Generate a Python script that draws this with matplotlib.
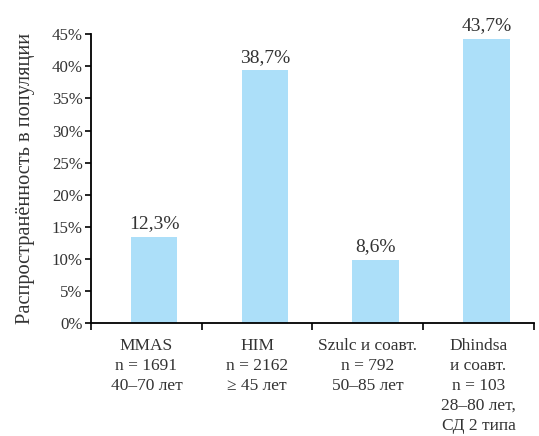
import matplotlib.pyplot as plt
import numpy as np

plt.rcParams['font.family'] = ['Liberation Serif', 'DejaVu Serif']

groups = ['MMAS\nn = 1691\n40–70 лет',
          'HIM\nn = 2162\n≥ 45 лет',
          'Szulc и соавт.\nn = 792\n50–85 лет',
          'Dhindsa\nи соавт.\nn = 103\n28–80 лет,\nСД 2 типа']
# bar heights as drawn in the picture, and the printed labels
heights = [13.4, 39.4, 9.8, 44.3]
labels = ['12,3%', '38,7%', '8,6%', '43,7%']
yticks = [0, 5, 10, 15, 20, 25, 30, 35, 40, 45]

txt = '#333333'
fig = plt.figure(figsize=(5.39, 4.36), dpi=100)
ax = fig.add_axes([0.169, 0.26, 0.8215, 0.661])

x = np.arange(len(groups)) + 0.57
ax.bar(x, heights, width=0.42, color='#acdff9')
for xi, h, lab in zip(x, heights, labels):
    ax.text(xi, h + 0.7, lab, ha='center', va='bottom', fontsize=14,
            color=txt, clip_on=False)

ax.set_xlim(0, 4)
ax.set_ylim(0, 45)
ax.set_yticks(yticks)
ax.set_yticklabels([f'{v}%' for v in yticks], fontsize=12.2, color=txt)
ax.set_xticks(range(5))
ax.set_xticklabels([])
ax.set_xticks(np.arange(4) + 0.5, minor=True)
ax.set_xticklabels(groups, minor=True, fontsize=12.5, color=txt,
                   linespacing=1.33, va='top')
ax.tick_params(axis='x', which='minor', length=0, pad=11)
ax.tick_params(axis='x', which='major', length=5, width=1.2, direction='out')
ax.tick_params(axis='y', length=4, width=1.2, direction='out', pad=2)

for s in ['top', 'right']:
    ax.spines[s].set_visible(False)
for s in ['left', 'bottom']:
    ax.spines[s].set_linewidth(1.3)

ax.set_ylabel('Распространённость в популяции', fontsize=14.7, color=txt,
              labelpad=12)

fig.savefig('out.png', dpi=100)
